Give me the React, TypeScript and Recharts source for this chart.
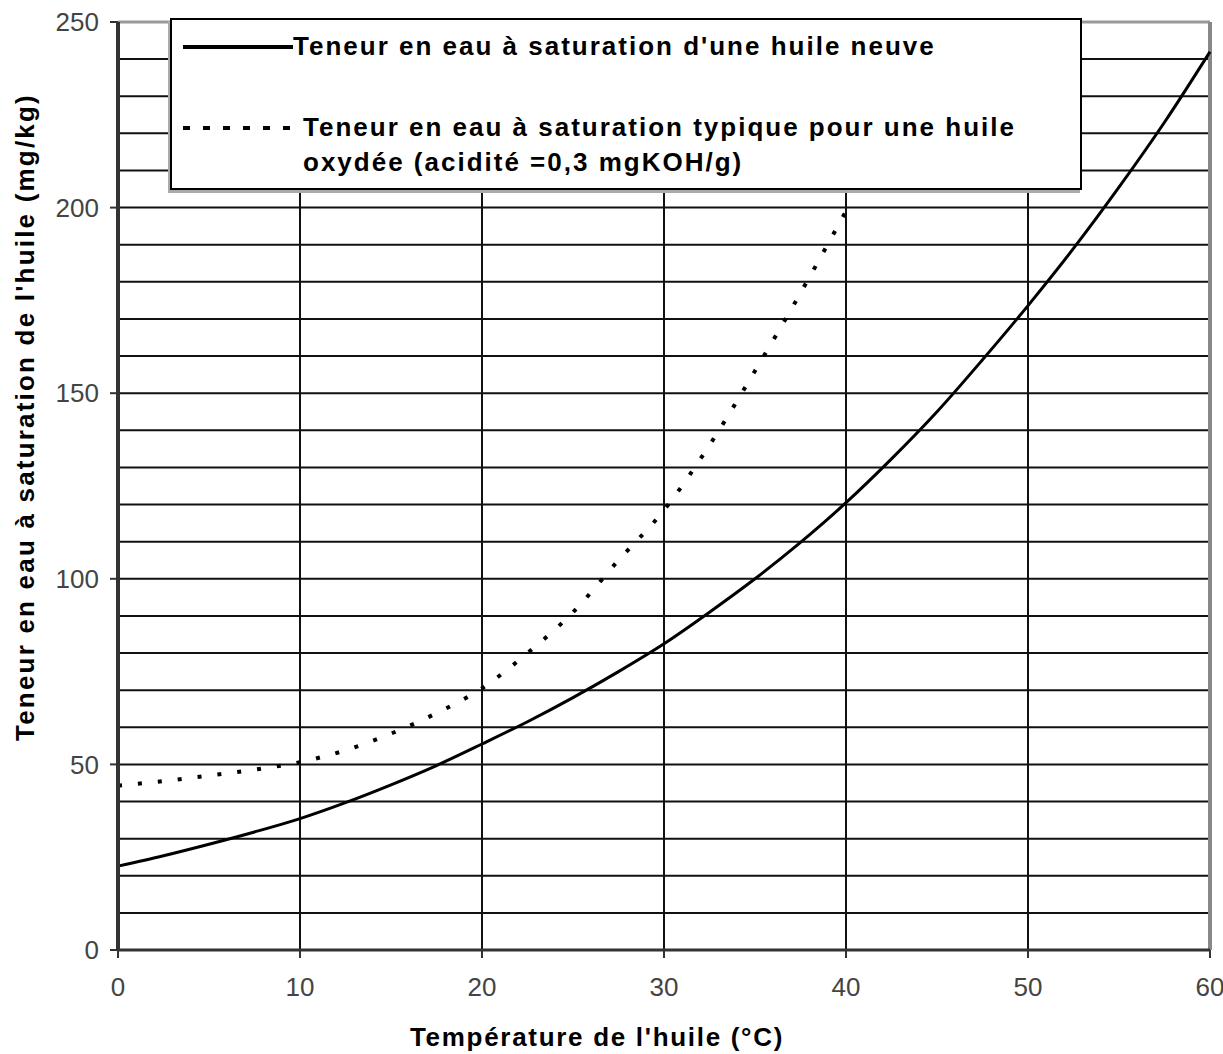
import React from 'react';
import {
  CartesianGrid,
  Legend,
  Line,
  LineChart,
  ReferenceLine,
  XAxis,
  YAxis,
} from 'recharts';

// Température de l'huile (°C)
const temperatures = [
  0, 2.5, 5, 7.5, 10, 12.5, 15, 17.5, 20, 22.5, 25, 27.5, 30, 32.5, 35, 37.5, 40, 42.5, 45, 47.5,
  50, 52.5, 55, 57.5, 60,
];
// huile neuve (mg/kg)
const freshOil = [
  22.6, 25.4, 28.5, 31.8, 35.4, 39.7, 44.5, 49.7, 55.5, 61.5, 68, 75, 82.5, 91, 100, 109.8, 120.5,
  132.3, 145, 159, 173.6, 189, 205.5, 223, 242,
];
// huile oxydée, acidité 0,3 mgKOH/g (mg/kg) — stops at 40 °C
const oxidisedOil = [
  44.3, 45.5, 47, 48.6, 50.6, 53.8, 58.3, 63.8, 70.5, 80, 91, 105, 118.5, 136, 156, 177, 199,
];

const xTicks = [0, 10, 20, 30, 40, 50, 60];
const yTicks = [0, 50, 100, 150, 200, 250];
const yMinor = [0, 10, 20, 30, 40, 50, 60, 70, 80, 90, 100, 110, 120, 130, 140, 150, 160, 170, 180, 190, 200, 210, 220, 230, 240, 250];
const yMax = 250;

const freshName = "Teneur en eau à saturation d'une huile neuve";
const oxidisedName = 'Teneur en eau à saturation typique pour une huile\noxydée (acidité =0,3 mgKOH/g)';

const data = temperatures.map((t, i) => ({
  t,
  fresh: freshOil[i],
  oxidised: i < oxidisedOil.length ? oxidisedOil[i] : null,
}));

const titleFont = '"Liberation Sans", Arial, sans-serif';
const tickStyle = { fontFamily: titleFont, fontSize: 26, fill: '#444' };

// minor grid every 10 mg/kg, placed through the axis scale when available
const minorGrid = (props: any) => {
  const scale = props?.yAxis?.scale;
  if (typeof scale === 'function') return yMinor.map((v) => scale(v));
  const { top, height } = props.offset;
  return yMinor.map((v) => top + height * (1 - v / yMax));
};

const renderLegend = (props: any) => {
  const items = props.payload || [];
  return (
    <div
      style={{
        width: 908,
        height: 168,
        border: '2px solid #000',
        background: '#fff',
        boxShadow: '-2px 3px 0 #aaa',
        position: 'relative',
        fontFamily: titleFont,
        fontWeight: 'bold',
        fontSize: 26,
        letterSpacing: 2,
        color: '#000',
      }}
    >
      {items.map((entry: any, i: number) => {
        const dashed = i === 1;
        const top = dashed ? 90 : 9;
        return (
          <div key={i} style={{ position: 'absolute', left: 11, top, display: 'flex' }}>
            <svg width={dashed ? 120 : 110} height={36} style={{ flex: 'none' }}>
              <line
                x1={0}
                x2={dashed ? 116 : 110}
                y1={18}
                y2={18}
                stroke="#000"
                strokeWidth={4}
                strokeDasharray={dashed ? '7 13' : undefined}
              />
            </svg>
            <div style={{ whiteSpace: 'pre-line', lineHeight: '35px' }}>{entry.value}</div>
          </div>
        );
      })}
    </div>
  );
};

const titleStyle = {
  fontFamily: titleFont,
  fontWeight: 'bold',
  fontSize: 26,
  fill: '#000',
};

const YTitle = () => (
  <text
    x={25}
    y={417}
    transform="rotate(-90 25 417)"
    textAnchor="middle"
    dominantBaseline="central"
    style={{ ...titleStyle, letterSpacing: 2.2 }}
  >
    Teneur en eau à saturation de l'huile (mg/kg)
  </text>
);

const XTitle = () => (
  <text
    x={597}
    y={1037}
    textAnchor="middle"
    dominantBaseline="central"
    style={{ ...titleStyle, letterSpacing: 1.7 }}
  >
    Température de l'huile (°C)
  </text>
);

export default function App() {
  return (
    <div style={{ position: 'absolute', left: 0, top: 0, background: '#fff' }}>
      <LineChart width={1223} height={1054} data={data} margin={{ top: 22, right: 13, left: 0, bottom: 0 }}>
        <CartesianGrid stroke="#111" strokeWidth={2} horizontalCoordinatesGenerator={minorGrid} />
        <XAxis
          dataKey="t"
          type="number"
          domain={[0, 60]}
          ticks={xTicks}
          height={104}
          tickSize={8}
          tickMargin={20}
          tick={tickStyle}
          axisLine={{ stroke: '#333', strokeWidth: 3 }}
          tickLine={{ stroke: '#333', strokeWidth: 2 }}
          label={<XTitle />}
        />
        <YAxis
          type="number"
          domain={[0, yMax]}
          ticks={yTicks}
          width={118}
          tickSize={8}
          tickMargin={11}
          tick={tickStyle}
          axisLine={{ stroke: '#333', strokeWidth: 4 }}
          tickLine={{ stroke: '#333', strokeWidth: 2 }}
          label={<YTitle />}
        />
        <ReferenceLine y={250} stroke="#999" strokeWidth={3} />
        <ReferenceLine x={60} stroke="#888" strokeWidth={4} />
        <Legend
          layout="horizontal"
          verticalAlign="middle"
          align="center"
          wrapperStyle={{ left: 170, top: 18, width: 912, height: 172 }}
          content={renderLegend}
        />
        <Line
          dataKey="fresh"
          name={freshName}
          type="monotone"
          stroke="#000"
          strokeWidth={3}
          dot={false}
          isAnimationActive={false}
        />
        <Line
          dataKey="oxidised"
          name={oxidisedName}
          type="monotone"
          stroke="#000"
          strokeWidth={4}
          strokeDasharray="4 16"
          dot={false}
          isAnimationActive={false}
        />
      </LineChart>
    </div>
  );
}
